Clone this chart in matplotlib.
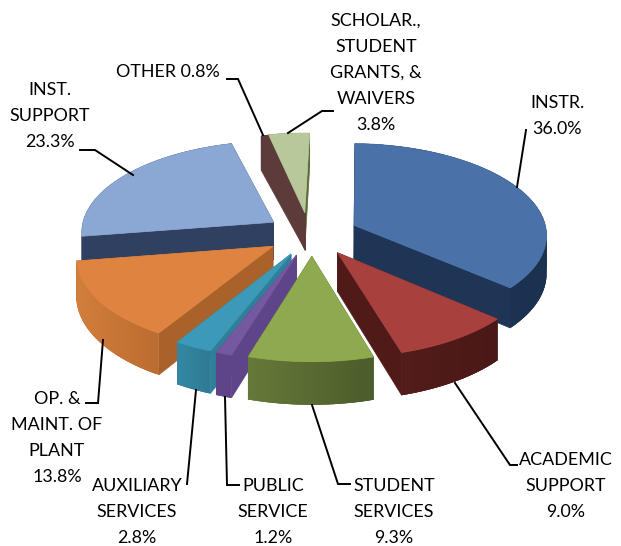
import numpy as np
import matplotlib
matplotlib.use("Agg")
import matplotlib.pyplot as plt
from matplotlib.patches import Polygon
from matplotlib.colors import to_rgb

categories = ["INSTR.", "ACADEMIC SUPPORT", "STUDENT SERVICES", "PUBLIC SERVICE",
              "AUXILIARY SERVICES", "OP. & MAINT. OF PLANT", "INST. SUPPORT", "OTHER",
              "SCHOLAR., STUDENT GRANTS, & WAIVERS"]
values = [36.0, 9.0, 9.3, 1.2, 2.8, 13.8, 23.3, 0.8, 3.8]
top_colors = ["#4A72A8", "#A8403E", "#8FA94F", "#7458A0", "#3C99B8", "#DE8440", "#8BA8D4", "#5E3B3B", "#B7C99A"]
side_colors = ["#1F3555", "#4F1A18", "#4E6029", "#5E4488", "#2E7F99", "#A8622A", "#2F4060", "#5E3B3B", "#5A6B38"]
wall_left = ["#1F3555", "#521C1A", "#66793A", "#5F4488", "#3488A3", "#D27E3C", "#2F4060", "#5E3B3B", "#5A6B38"]
wall_right = ["#1B3150", "#4A1816", "#4C5C2A", "#5F4488", "#2F7A94", "#BC6C30", "#2F4060", "#5E3B3B", "#5A6B38"]
slice_shift = [0, 0, 0, 0, 0, 0, 0, 4, -3]

labels = [
    ("SCHOLAR.,\nSTUDENT\nGRANTS, &\nWAIVERS\n3.8%", 376, 73),
    ("INSTR.\n36.0%", 557, 116),
    ("INST.\nSUPPORT\n23.3%", 50, 116),
    ("OTHER 0.8%", 168, 72),
    ("ACADEMIC\nSUPPORT\n9.0%", 566, 486),
    ("STUDENT\nSERVICES\n9.3%", 394, 512),
    ("PUBLIC\nSERVICE\n1.2%", 273, 512),
    ("AUXILIARY\nSERVICES\n2.8%", 137, 512),
    ("OP. &\nMAINT. OF\nPLANT\n13.8%", 57, 438),
]
leaders = [
    [(227, 79), (238, 79), (263, 135)],
    [(288, 133), (322, 111), (333, 111)],
    [(517, 187), (526, 130)],
    [(133, 175), (95, 150), (80, 150)],
    [(455, 383), (510, 465), (517, 465)],
    [(312, 405), (338, 484), (350, 484)],
    [(225, 397), (227, 485), (239, 485)],
    [(196, 390), (187, 484)],
    [(103, 340), (98, 403), (86, 403)],
]

CX, CY, R, RV, P, EXPLODE, DEPTH, ROT = 312, 234, 193, 91, 0.094, 0.24, 38, 1.5


def project(x, y):
    d = 1 + P * y
    return CX + R * x / d, CY - RV * y / d


def depth(y):
    return DEPTH / (1 + P * y)


fig = plt.figure(figsize=(6.21, 5.46), dpi=100)
ax = fig.add_axes([0, 0, 1, 1])
ax.set_xlim(0, 621)
ax.set_ylim(546, 0)
ax.axis("off")

edges = np.cumsum([0] + values) / sum(values) * 360 + ROT
order = [8, 7, 6, 0, 5, 1, 4, 3, 2]
for z, i in enumerate(order, start=2):
    a0, a1 = edges[i], edges[i + 1]
    mid = np.radians((a0 + a1) / 2)
    ox, oy = EXPLODE * np.sin(mid), EXPLODE * np.cos(mid)
    th = np.radians(np.linspace(a0, a1, 60))
    xs = ox + np.sin(th)
    ys = oy + np.cos(th)
    px, py = project(xs, ys)
    px = px + slice_shift[i]
    d = depth(ys)
    ax0, ay0 = project(ox, oy)
    ax0 += slice_shift[i]
    d0 = depth(oy)
    # radial sides
    for j in (0, -1):
        q = [(ax0, ay0), (px[j], py[j]), (px[j], py[j] + d[j]), (ax0, ay0 + d0)]
        ax.add_patch(Polygon(q, closed=True, fc=side_colors[i], ec=side_colors[i], lw=0.5, zorder=z))
    # outer wall, shaded along x; neighbouring pieces overlap so no seams show
    cl, cr = np.array(to_rgb(wall_left[i])), np.array(to_rgb(wall_right[i]))
    xmin, xmax = px.min(), px.max()
    for k in range(len(px) - 1):
        t = (px[k] - xmin) / max(xmax - xmin, 1)
        c = cl + (cr - cl) * t
        e = min(k + 4, len(px))
        q = np.r_[np.c_[px[k:e], py[k:e]], np.c_[px[k:e], py[k:e] + d[k:e]][::-1]]
        ax.add_patch(Polygon(q, closed=True, fc=c, ec="none", lw=0, zorder=z + 0.1))
    # top; the scholarship slice keeps its top above the neighbouring band
    top = np.r_[[[ax0, ay0]], np.c_[px, py]]
    top_z = z + 1.5 if i == 8 else z + 0.2
    ax.add_patch(Polygon(top, closed=True, fc=top_colors[i], ec=top_colors[i], lw=0.5, zorder=top_z))

for pts in leaders:
    p = np.array(pts)
    ax.plot(p[:, 0], p[:, 1], color="black", lw=1.4, zorder=30, solid_joinstyle="miter")

for text, x, y in labels:
    ax.text(x, y, text, ha="center", va="center", family="Lato", fontsize=12.9,
            linespacing=1.78, color="black", zorder=31)

fig.savefig("out.png", dpi=100)
